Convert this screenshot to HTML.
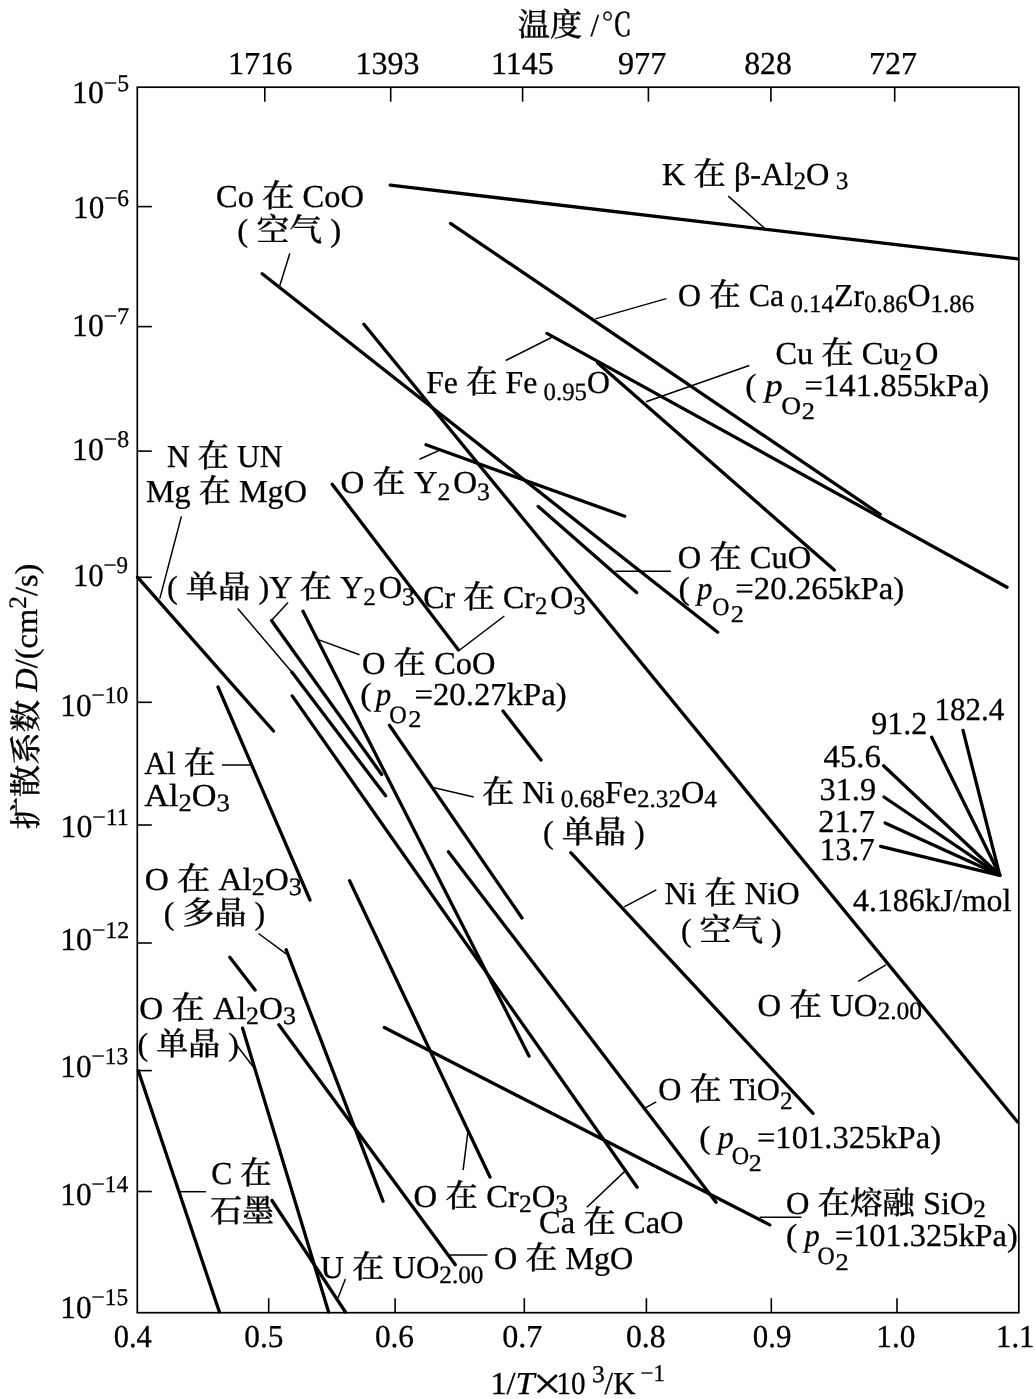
<!DOCTYPE html>
<html lang="zh">
<head>
<meta charset="utf-8">
<title>扩散系数</title>
<style>
html,body{margin:0;padding:0;background:#fff;}
svg{display:block;will-change:transform;}
text{text-rendering:geometricPrecision;}
</style>
</head>
<body>
<svg width="1035" height="1399" viewBox="0 0 1035 1399">
<rect width="1035" height="1399" fill="#fff"/>
<g stroke="#000" fill="none">
<rect x="137.3" y="87.2" width="881.5" height="1225.5" stroke-width="1.7"/>
<line x1="264.8" y1="87.2" x2="264.8" y2="101.7" stroke-width="1.6" stroke-linecap="butt"/>
<line x1="390.7" y1="87.2" x2="390.7" y2="101.7" stroke-width="1.6" stroke-linecap="butt"/>
<line x1="522.6" y1="87.2" x2="522.6" y2="101.7" stroke-width="1.6" stroke-linecap="butt"/>
<line x1="648.4" y1="87.2" x2="648.4" y2="101.7" stroke-width="1.6" stroke-linecap="butt"/>
<line x1="770.9" y1="87.2" x2="770.9" y2="101.7" stroke-width="1.6" stroke-linecap="butt"/>
<line x1="894.7" y1="87.2" x2="894.7" y2="101.7" stroke-width="1.6" stroke-linecap="butt"/>
<line x1="268.7" y1="1312.7" x2="268.7" y2="1298.2" stroke-width="1.6" stroke-linecap="butt"/>
<line x1="395.1" y1="1312.7" x2="395.1" y2="1298.2" stroke-width="1.6" stroke-linecap="butt"/>
<line x1="524.3" y1="1312.7" x2="524.3" y2="1298.2" stroke-width="1.6" stroke-linecap="butt"/>
<line x1="646.4" y1="1312.7" x2="646.4" y2="1298.2" stroke-width="1.6" stroke-linecap="butt"/>
<line x1="771.3" y1="1312.7" x2="771.3" y2="1298.2" stroke-width="1.6" stroke-linecap="butt"/>
<line x1="897.0" y1="1312.7" x2="897.0" y2="1298.2" stroke-width="1.6" stroke-linecap="butt"/>
<line x1="137.3" y1="206.6" x2="151.8" y2="206.6" stroke-width="1.6" stroke-linecap="butt"/>
<line x1="137.3" y1="326.6" x2="151.8" y2="326.6" stroke-width="1.6" stroke-linecap="butt"/>
<line x1="137.3" y1="451.1" x2="151.8" y2="451.1" stroke-width="1.6" stroke-linecap="butt"/>
<line x1="137.3" y1="577.3" x2="151.8" y2="577.3" stroke-width="1.6" stroke-linecap="butt"/>
<line x1="137.3" y1="702.3" x2="151.8" y2="702.3" stroke-width="1.6" stroke-linecap="butt"/>
<line x1="137.3" y1="825.0" x2="151.8" y2="825.0" stroke-width="1.6" stroke-linecap="butt"/>
<line x1="137.3" y1="943.0" x2="151.8" y2="943.0" stroke-width="1.6" stroke-linecap="butt"/>
<line x1="137.3" y1="1070.6" x2="151.8" y2="1070.6" stroke-width="1.6" stroke-linecap="butt"/>
<line x1="137.3" y1="1191.5" x2="151.8" y2="1191.5" stroke-width="1.6" stroke-linecap="butt"/>
<line x1="390.2" y1="185.2" x2="1017.8" y2="258.9" stroke-width="3.3" stroke-linecap="round"/>
<line x1="450.5" y1="223.4" x2="880.2" y2="514.4" stroke-width="3.3" stroke-linecap="round"/>
<line x1="547.0" y1="333.4" x2="1007.0" y2="587.3" stroke-width="3.3" stroke-linecap="round"/>
<line x1="262.2" y1="273.8" x2="717.7" y2="632.2" stroke-width="3.3" stroke-linecap="round"/>
<line x1="363.9" y1="324.3" x2="1017.6" y2="1122.0" stroke-width="3.3" stroke-linecap="round"/>
<line x1="597.7" y1="363.0" x2="834.3" y2="570.0" stroke-width="3.3" stroke-linecap="round"/>
<line x1="426.0" y1="444.7" x2="624.7" y2="516.2" stroke-width="3.3" stroke-linecap="round"/>
<line x1="538.2" y1="506.4" x2="636.6" y2="592.6" stroke-width="3.3" stroke-linecap="round"/>
<line x1="332.2" y1="484.3" x2="458.5" y2="650.0" stroke-width="3.3" stroke-linecap="round"/>
<line x1="503.0" y1="711.0" x2="541.0" y2="760.0" stroke-width="3.3" stroke-linecap="round"/>
<line x1="137.5" y1="577.2" x2="273.5" y2="731.0" stroke-width="3.3" stroke-linecap="round"/>
<line x1="218.0" y1="687.0" x2="310.0" y2="900.0" stroke-width="3.3" stroke-linecap="round"/>
<line x1="271.5" y1="620.5" x2="381.7" y2="774.5" stroke-width="3.3" stroke-linecap="round"/>
<line x1="303.0" y1="611.3" x2="529.0" y2="1056.0" stroke-width="3.3" stroke-linecap="round"/>
<line x1="291.8" y1="672.1" x2="385.6" y2="795.8" stroke-width="3.3" stroke-linecap="round"/>
<line x1="292.2" y1="695.9" x2="637.1" y2="1187.2" stroke-width="3.3" stroke-linecap="round"/>
<line x1="389.4" y1="725.3" x2="522.0" y2="918.0" stroke-width="3.3" stroke-linecap="round"/>
<line x1="448.4" y1="851.7" x2="716.0" y2="1202.3" stroke-width="3.3" stroke-linecap="round"/>
<line x1="349.6" y1="880.8" x2="490.0" y2="1177.0" stroke-width="3.3" stroke-linecap="round"/>
<line x1="570.8" y1="852.7" x2="813.0" y2="1113.3" stroke-width="3.3" stroke-linecap="round"/>
<line x1="384.3" y1="1027.5" x2="769.8" y2="1224.9" stroke-width="3.3" stroke-linecap="round"/>
<line x1="229.8" y1="957.2" x2="255.1" y2="990.0" stroke-width="3.3" stroke-linecap="round"/>
<line x1="278.8" y1="1024.8" x2="455.3" y2="1264.7" stroke-width="3.3" stroke-linecap="round"/>
<line x1="286.2" y1="949.8" x2="383.0" y2="1201.2" stroke-width="3.3" stroke-linecap="round"/>
<line x1="242.6" y1="1028.2" x2="328.6" y2="1312.0" stroke-width="3.3" stroke-linecap="round"/>
<line x1="138.3" y1="1070.8" x2="219.4" y2="1312.0" stroke-width="3.3" stroke-linecap="round"/>
<line x1="272.0" y1="1200.5" x2="345.4" y2="1312.0" stroke-width="3.3" stroke-linecap="round"/>
<line x1="963.0" y1="730.4" x2="999.8" y2="875.3" stroke-width="3.3" stroke-linecap="round"/>
<line x1="931.7" y1="737.2" x2="999.8" y2="875.3" stroke-width="3.3" stroke-linecap="round"/>
<line x1="883.6" y1="765.8" x2="999.8" y2="875.3" stroke-width="3.3" stroke-linecap="round"/>
<line x1="884.0" y1="797.0" x2="999.8" y2="875.3" stroke-width="3.3" stroke-linecap="round"/>
<line x1="885.1" y1="823.0" x2="999.8" y2="875.3" stroke-width="3.3" stroke-linecap="round"/>
<line x1="880.6" y1="846.4" x2="999.8" y2="875.3" stroke-width="3.3" stroke-linecap="round"/>
<line x1="289.8" y1="253.4" x2="279.4" y2="287.0" stroke-width="1.5" stroke-linecap="butt"/>
<line x1="728.3" y1="196.1" x2="764.5" y2="228.3" stroke-width="1.5" stroke-linecap="butt"/>
<line x1="595.3" y1="318.9" x2="666.3" y2="298.6" stroke-width="1.5" stroke-linecap="butt"/>
<line x1="505.7" y1="360.5" x2="551.4" y2="337.5" stroke-width="1.5" stroke-linecap="butt"/>
<line x1="646.0" y1="401.7" x2="749.3" y2="365.5" stroke-width="1.5" stroke-linecap="butt"/>
<line x1="419.5" y1="459.2" x2="439.8" y2="450.1" stroke-width="1.5" stroke-linecap="butt"/>
<line x1="615.3" y1="571.3" x2="671.0" y2="571.3" stroke-width="1.5" stroke-linecap="butt"/>
<line x1="459.7" y1="650.0" x2="504.3" y2="616.0" stroke-width="1.5" stroke-linecap="butt"/>
<line x1="181.4" y1="516.4" x2="159.8" y2="598.6" stroke-width="1.5" stroke-linecap="butt"/>
<line x1="237.7" y1="608.4" x2="291.8" y2="672.1" stroke-width="1.5" stroke-linecap="butt"/>
<line x1="288.0" y1="602.6" x2="271.5" y2="620.5" stroke-width="1.5" stroke-linecap="butt"/>
<line x1="318.9" y1="639.9" x2="359.5" y2="654.7" stroke-width="1.5" stroke-linecap="butt"/>
<line x1="222.0" y1="765.0" x2="250.3" y2="765.0" stroke-width="1.5" stroke-linecap="butt"/>
<line x1="433.1" y1="787.4" x2="473.7" y2="796.9" stroke-width="1.5" stroke-linecap="butt"/>
<line x1="624.2" y1="906.8" x2="656.3" y2="889.9" stroke-width="1.5" stroke-linecap="butt"/>
<line x1="885.9" y1="964.8" x2="858.2" y2="981.4" stroke-width="1.5" stroke-linecap="butt"/>
<line x1="258.5" y1="933.5" x2="286.2" y2="953.8" stroke-width="1.5" stroke-linecap="butt"/>
<line x1="236.5" y1="1045.0" x2="253.4" y2="1067.0" stroke-width="1.5" stroke-linecap="butt"/>
<line x1="180.0" y1="1191.7" x2="206.0" y2="1191.7" stroke-width="1.5" stroke-linecap="butt"/>
<line x1="468.2" y1="1129.7" x2="463.1" y2="1170.2" stroke-width="1.5" stroke-linecap="butt"/>
<line x1="449.7" y1="1255.0" x2="487.4" y2="1255.0" stroke-width="1.5" stroke-linecap="butt"/>
<line x1="345.4" y1="1279.0" x2="338.0" y2="1298.0" stroke-width="1.5" stroke-linecap="butt"/>
<line x1="656.2" y1="1101.8" x2="645.4" y2="1107.8" stroke-width="1.5" stroke-linecap="butt"/>
<line x1="626.6" y1="1169.6" x2="586.9" y2="1207.3" stroke-width="1.5" stroke-linecap="butt"/>
<line x1="759.7" y1="1217.3" x2="801.4" y2="1217.3" stroke-width="1.5" stroke-linecap="butt"/>
</g>
<g fill="#000" stroke="#000" stroke-width="0.3" font-family="'Liberation Serif', 'Noto Serif CJK SC', serif" font-size="32" xml:space="preserve">
<text transform="translate(517.80,35.5) scale(1.0032,1)"><tspan font-weight="500">温度</tspan></text>
<text transform="translate(590.40,35.5) scale(0.9556,1)">/</text>
<text transform="translate(601.04,35.5) scale(0.9815,1)">℃</text>
<text transform="translate(227.97,73.7) scale(1.0083,1)">1716</text>
<text transform="translate(355.61,73.7) scale(0.9983,1)">1393</text>
<text transform="translate(490.89,73.7) scale(1.0017,1)">1145</text>
<text transform="translate(617.99,73.7) scale(1.0065,1)">977</text>
<text transform="translate(744.21,73.7) scale(0.9913,1)">828</text>
<text transform="translate(869.00,73.7) scale(1.0000,1)">727</text>
<text transform="translate(113.65,1347.0) scale(0.9538,1)">0.4</text>
<text transform="translate(244.22,1347.0) scale(0.9789,1)">0.5</text>
<text transform="translate(374.92,1347.0) scale(0.9763,1)">0.6</text>
<text transform="translate(502.19,1347.0) scale(1.0053,1)">0.7</text>
<text transform="translate(626.01,1347.0) scale(0.9895,1)">0.8</text>
<text transform="translate(752.73,1347.0) scale(0.9658,1)">0.9</text>
<text transform="translate(876.37,1347.0) scale(0.9778,1)">1.0</text>
<text transform="translate(996.01,1347.0) scale(0.9629,1)">1.1</text>
<text transform="translate(490.47,1394.0) scale(1.0091,1)">1/</text>
<text transform="translate(515.56,1394.0) scale(1.0722,1)"><tspan font-style="italic">T</tspan></text>
<text transform="translate(532.90,1398.9) scale(1.1000,1)" font-size="46">×</text>
<text transform="translate(556.48,1394.0) scale(0.9071,1)">10</text>
<text transform="translate(591.93,1381.9) scale(1.0700,1)" font-size="24">3</text>
<text transform="translate(604.60,1394.0) scale(0.9688,1)">/K</text>
<text transform="translate(640.58,1380.9) scale(0.9500,1)" font-size="24">−1</text>
<text transform="translate(72.03,103.1) scale(0.9907,1)">10<tspan dy="-12.5" font-size="24">−5</tspan></text>
<text transform="translate(73.08,218.0) scale(0.9722,1)">10<tspan dy="-12.5" font-size="24">−6</tspan></text>
<text transform="translate(72.03,336.0) scale(0.9907,1)">10<tspan dy="-12.5" font-size="24">−7</tspan></text>
<text transform="translate(72.03,459.5) scale(0.9907,1)">10<tspan dy="-12.5" font-size="24">−8</tspan></text>
<text transform="translate(72.92,585.6) scale(0.9593,1)">10<tspan dy="-12.5" font-size="24">−9</tspan></text>
<text transform="translate(60.27,715.7) scale(0.9758,1)">10<tspan dy="-12.5" font-size="24">−10</tspan></text>
<text transform="translate(60.52,837.2) scale(0.9922,1)">10<tspan dy="-12.5" font-size="24">−11</tspan></text>
<text transform="translate(60.23,950.0) scale(0.9908,1)">10<tspan dy="-12.5" font-size="24">−12</tspan></text>
<text transform="translate(60.27,1076.6) scale(0.9758,1)">10<tspan dy="-12.5" font-size="24">−13</tspan></text>
<text transform="translate(60.27,1204.8) scale(0.9758,1)">10<tspan dy="-12.5" font-size="24">−14</tspan></text>
<text transform="translate(60.27,1317.8) scale(0.9758,1)">10<tspan dy="-12.5" font-size="24">−15</tspan></text>
<text transform="translate(215.99,207.0) scale(1.0139,1)">Co <tspan font-weight="500">在</tspan> CoO</text>
<text transform="translate(237.37,240.5) scale(1.0253,1)">( <tspan font-weight="500">空气</tspan> )</text>
<text transform="translate(661.99,185.3) scale(1.0109,1)">K <tspan font-weight="500">在</tspan> β-Al<tspan dy="4" font-size="25">2</tspan><tspan dy="-4">O</tspan><tspan dy="4" font-size="25"> 3</tspan></text>
<text transform="translate(678.00,306.3) scale(0.9956,1)">O <tspan font-weight="500">在</tspan> Ca<tspan dy="6" font-size="25"> 0.14</tspan><tspan dy="-6">Zr</tspan><tspan dy="6" font-size="25">0.86</tspan><tspan dy="-6">O</tspan><tspan dy="6" font-size="25">1.86</tspan></text>
<text transform="translate(775.39,363.9) scale(1.0113,1)">Cu <tspan font-weight="500">在</tspan> Cu<tspan dy="6" font-size="25">2</tspan><tspan dy="-6"><tspan font-size="11"> </tspan>O</tspan></text>
<text transform="translate(426.21,393.3) scale(0.9923,1)">Fe <tspan font-weight="500">在</tspan> Fe<tspan dy="7" font-size="25"> 0.95</tspan><tspan dy="-7">O</tspan></text>
<text transform="translate(340.47,492.5) scale(1.0301,1)">O <tspan font-weight="500">在</tspan> Y<tspan dy="7" font-size="25">2</tspan><tspan dy="-7"><tspan font-size="11"> </tspan>O</tspan><tspan dy="7" font-size="25">3</tspan></text>
<text transform="translate(166.91,466.7) scale(0.9853,1)">N <tspan font-weight="500">在</tspan> UN</text>
<text transform="translate(145.89,502.2) scale(1.0063,1)">Mg <tspan font-weight="500">在</tspan> MgO</text>
<text transform="translate(166.89,597.5) scale(1.0103,1)">( <tspan font-weight="500">单晶</tspan> )Y <tspan font-weight="500">在</tspan> Y<tspan dy="7" font-size="25">2</tspan><tspan dy="-7"><tspan font-size="11"> </tspan>O</tspan><tspan dy="7" font-size="25">3</tspan></text>
<text transform="translate(423.20,607.7) scale(0.9975,1)">Cr <tspan font-weight="500">在</tspan> Cr<tspan dy="6" font-size="25">2</tspan><tspan dy="-6"><tspan font-size="11"> </tspan>O</tspan><tspan dy="6" font-size="25">3</tspan></text>
<text transform="translate(677.79,567.7) scale(1.0132,1)">O <tspan font-weight="500">在</tspan> CuO</text>
<text transform="translate(362.09,673.9) scale(1.0132,1)">O <tspan font-weight="500">在</tspan> CoO</text>
<text transform="translate(144.20,774.4) scale(0.9901,1)">Al <tspan font-weight="500">在</tspan></text>
<text transform="translate(144.20,805.5) scale(1.0696,1)">Al<tspan dy="5" font-size="25">2</tspan><tspan dy="-5">O</tspan><tspan dy="5" font-size="25">3</tspan></text>
<text transform="translate(144.66,890.0) scale(1.0389,1)">O <tspan font-weight="500">在</tspan> Al<tspan dy="5" font-size="25">2</tspan><tspan dy="-5">O</tspan><tspan dy="5" font-size="25">3</tspan></text>
<text transform="translate(163.80,923.6) scale(1.0000,1)">( <tspan font-weight="500">多晶</tspan> )</text>
<text transform="translate(139.26,1018.5) scale(1.0362,1)">O <tspan font-weight="500">在</tspan> Al<tspan dy="5" font-size="25">2</tspan><tspan dy="-5">O</tspan><tspan dy="5" font-size="25">3</tspan></text>
<text transform="translate(137.50,1055.3) scale(1.0000,1)">( <tspan font-weight="500">单晶</tspan> )</text>
<text transform="translate(211.22,1183.8) scale(0.9847,1)">C <tspan font-weight="500">在</tspan></text>
<text transform="translate(210.00,1221.5) scale(1.0000,1)"><tspan font-weight="500">石墨</tspan></text>
<text transform="translate(320.59,1277.6) scale(1.0113,1)">U <tspan font-weight="500">在</tspan> UO<tspan dy="5" font-size="25">2.00</tspan></text>
<text transform="translate(413.58,1207.3) scale(1.0215,1)">O <tspan font-weight="500">在</tspan> Cr<tspan dy="5" font-size="25">2</tspan><tspan dy="-5">O</tspan><tspan dy="5" font-size="25">3</tspan></text>
<text transform="translate(494.00,1268.6) scale(1.0044,1)">O <tspan font-weight="500">在</tspan> MgO</text>
<text transform="translate(539.08,1233.2) scale(1.0157,1)">Ca <tspan font-weight="500">在</tspan> CaO</text>
<text transform="translate(658.20,1100.2) scale(1.0023,1)">O <tspan font-weight="500">在</tspan> TiO<tspan dy="9" font-size="25">2</tspan></text>
<text transform="translate(785.99,1214.2) scale(1.0133,1)">O <tspan font-weight="500">在熔融</tspan> SiO<tspan dy="3" font-size="25">2</tspan></text>
<text transform="translate(757.48,1016.4) scale(1.0220,1)">O <tspan font-weight="500">在</tspan> UO<tspan dy="3" font-size="25">2.00</tspan></text>
<text transform="translate(664.50,904.0) scale(1.0000,1)">Ni <tspan font-weight="500">在</tspan> NiO</text>
<text transform="translate(680.91,940.8) scale(0.9949,1)">( <tspan font-weight="500">空气</tspan> )</text>
<text transform="translate(482.09,802.9) scale(1.0056,1)"><tspan font-weight="500">在</tspan> Ni<tspan dy="4" font-size="25"> 0.68</tspan><tspan dy="-4">Fe</tspan><tspan dy="4" font-size="25">2.32</tspan><tspan dy="-4">O</tspan><tspan dy="4" font-size="25">4</tspan></text>
<text transform="translate(542.89,842.9) scale(1.0061,1)">( <tspan font-weight="500">单晶</tspan> )</text>
<text transform="translate(934.49,719.7) scale(0.9710,1)">182.4</text>
<text transform="translate(871.20,734.0) scale(1.0019,1)">91.2</text>
<text transform="translate(823.47,766.7) scale(1.0278,1)">45.6</text>
<text transform="translate(819.58,800.3) scale(1.0075,1)">31.9</text>
<text transform="translate(818.29,831.7) scale(1.0093,1)">21.7</text>
<text transform="translate(819.75,859.8) scale(0.9827,1)">13.7</text>
<text transform="translate(853.01,910.5) scale(0.9949,1)">4.186kJ/mol</text>
<text transform="translate(745.24,395.8) scale(1.0600,1)">(</text>
<text transform="translate(764.90,395.8) scale(1.1000,1)"><tspan font-style="italic">p</tspan></text>
<text transform="translate(781.35,414.2) scale(1.1000,1)" font-size="25">O</text>
<text transform="translate(801.85,419.2) scale(1.1000,1)" font-size="24">2</text>
<text transform="translate(804.56,395.8) scale(1.0220,1)">=141.855kPa)</text>
<text transform="translate(678.54,598.8) scale(1.0600,1)">(</text>
<text transform="translate(697.12,598.8) scale(0.9588,1)"><tspan font-style="italic">p</tspan></text>
<text transform="translate(712.25,615.4) scale(0.9500,1)" font-size="25">O</text>
<text transform="translate(730.65,621.7) scale(1.1000,1)" font-size="24">2</text>
<text transform="translate(735.35,598.8) scale(1.0255,1)">=20.265kPa)</text>
<text transform="translate(360.34,704.8) scale(1.0600,1)">(</text>
<text transform="translate(375.83,704.8) scale(0.9647,1)"><tspan font-style="italic">p</tspan></text>
<text transform="translate(389.33,722.9) scale(0.9688,1)" font-size="25">O</text>
<text transform="translate(408.15,726.7) scale(1.1000,1)" font-size="24">2</text>
<text transform="translate(414.55,704.8) scale(1.0228,1)">=20.27kPa)</text>
<text transform="translate(699.24,1148.1) scale(1.0600,1)">(</text>
<text transform="translate(717.80,1148.1) scale(1.0000,1)"><tspan font-style="italic">p</tspan></text>
<text transform="translate(731.84,1163.6) scale(0.9625,1)" font-size="25">O</text>
<text transform="translate(748.72,1170.7) scale(1.0800,1)" font-size="24">2</text>
<text transform="translate(756.96,1148.1) scale(1.0186,1)">=101.325kPa)</text>
<text transform="translate(785.94,1246.4) scale(1.0600,1)">(</text>
<text transform="translate(804.38,1246.4) scale(0.9500,1)"><tspan font-style="italic">p</tspan></text>
<text transform="translate(817.40,1263.5) scale(0.9500,1)" font-size="25">O</text>
<text transform="translate(835.50,1270.3) scale(1.1000,1)" font-size="24">2</text>
<text transform="translate(834.88,1246.4) scale(1.0119,1)">=101.325kPa)</text>
<text transform="translate(36.5,829.6) rotate(-90) scale(1.014,1)"><tspan font-weight="500">扩散系数</tspan> <tspan font-style="italic">D</tspan>/(cm<tspan dy="-11" font-size="25">2</tspan><tspan dy="11">/s)</tspan></text>
</g>
</svg>
</body>
</html>
